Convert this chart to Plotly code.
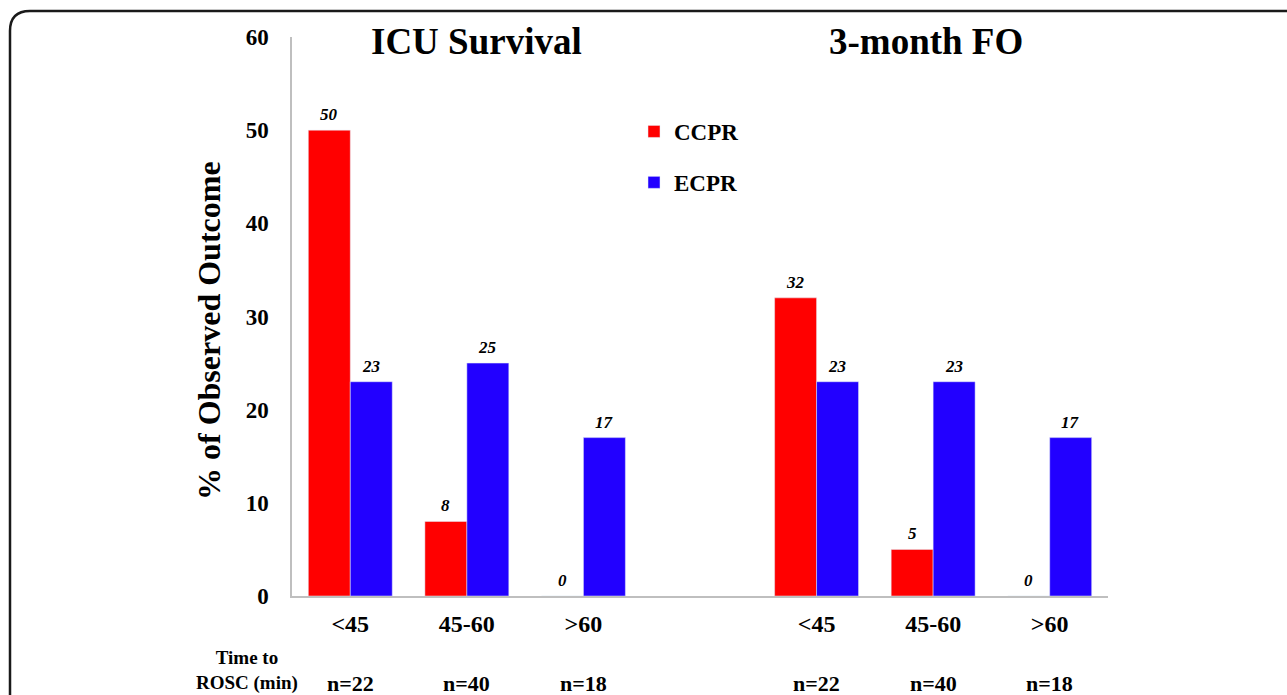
import plotly.graph_objects as go

# Outcome percentages by time to ROSC, two panels on one shared axis
categories = ["<45", "45-60", ">60"]
n_counts = ["n=22", "n=40", "n=18"]
icu_ccpr = [50, 8, 0]
icu_ecpr = [23, 25, 17]
fo_ccpr = [32, 5, 0]
fo_ecpr = [23, 23, 17]
panel_titles = ["ICU Survival", "3-month FO"]
y_ticks = [0, 10, 20, 30, 40, 50, 60]

W, H = 1287, 695
ML, MR, MT, MB = 292, 179, 37, 99
PW, PH = W - ML - MR, H - MT - MB

FONT = "Liberation Serif"
RED = "#FF0000"
BLUE = "#2200FF"

# slot positions: ICU panel at 0..2, FO panel at 4..6
icu_x = [0, 1, 2]
fo_x = [4, 5, 6]
xs = icu_x + fo_x
ccpr = icu_ccpr + fo_ccpr
ecpr = icu_ecpr + fo_ecpr


def px(xp):
    return (xp - ML) / PW


def py(yp):
    return (H - MB - yp) / PH


fig = go.Figure()
fig.add_trace(go.Bar(x=xs, y=ccpr, name="CCPR", marker_color=RED,
                     legendgroup="c"))
fig.add_trace(go.Bar(x=xs, y=ecpr, name="ECPR", marker_color=BLUE,
                     legendgroup="e"))

annotations = []
half = 0.18
for x, c, e in zip(xs, ccpr, ecpr):
    for xx, v in ((x - half, c), (x + half, e)):
        annotations.append(dict(
            x=xx, y=v, xref="x", yref="y", text=str(v), showarrow=False,
            xanchor="center", yanchor="bottom", yshift=4,
            font=dict(family=FONT, size=17, color="black",
                      weight="bold", style="italic")))

for x, n in zip(xs, n_counts + n_counts):
    annotations.append(dict(
        x=x, y=py(683), xref="x", yref="paper", text=n, showarrow=False,
        xanchor="center", yanchor="middle",
        font=dict(family=FONT, size=22, color="black", weight="bold")))

annotations.append(dict(
    x=px(247), y=py(670), xref="paper", yref="paper",
    text="Time to<br>ROSC (min)", showarrow=False, align="center",
    xanchor="center", yanchor="middle",
    font=dict(family=FONT, size=19, color="black", weight="bold")))

for cx, t in zip((476, 926), panel_titles):
    annotations.append(dict(
        x=px(cx), y=py(42), xref="paper", yref="paper", text=t,
        showarrow=False, xanchor="center", yanchor="middle",
        font=dict(family=FONT, size=37, color="black", weight="bold")))

# vertical axis title
annotations.append(dict(
    x=px(209), y=py(331), xref="paper", yref="paper",
    text="% of Observed Outcome", textangle=-90, showarrow=False,
    xanchor="center", yanchor="middle",
    font=dict(family=FONT, size=32, color="black", weight="bold")))

# rounded frame around the whole figure
x0, x1 = px(10), px(1310)
yt, yb = py(11), py(730)
rx, ry = 20 / PW, 20 / PH
frame = (f"M{x0},{yb} L{x0},{yt - ry} Q{x0},{yt} {x0 + rx},{yt} "
         f"L{x1},{yt}")

fig.update_layout(
    width=W, height=H,
    margin=dict(l=ML, r=MR, t=MT, b=MB, autoexpand=False),
    paper_bgcolor="white", plot_bgcolor="white",
    barmode="group", bargap=0.28, bargroupgap=0,
    showlegend=True,
    legend=dict(x=px(634), y=py(110), xref="paper", yref="paper",
                xanchor="left", yanchor="top", tracegroupgap=18,
                bgcolor="rgba(0,0,0,0)",
                font=dict(family=FONT, size=23, color="black",
                          weight="bold")),
    xaxis=dict(range=[-0.5, 6.5], tickvals=xs,
               ticktext=categories + categories,
               showline=True, linecolor="#BFBFBF", linewidth=1.5,
               showgrid=False, zeroline=False, ticks="",
               ticklabelstandoff=5,
               tickfont=dict(family=FONT, size=24, color="black",
                             weight="bold")),
    yaxis=dict(range=[0, 60], tickvals=y_ticks,
               showline=True, linecolor="#BFBFBF", linewidth=1.5,
               showgrid=False, zeroline=False, ticks="",
               ticklabelstandoff=17,
               tickfont=dict(family=FONT, size=23, color="black",
                             weight="bold")),
    annotations=annotations,
    shapes=[dict(type="path", path=frame, xref="paper", yref="paper",
                 line=dict(color="#1a1a1a", width=2.5))],
)

fig.write_html("out.html")
